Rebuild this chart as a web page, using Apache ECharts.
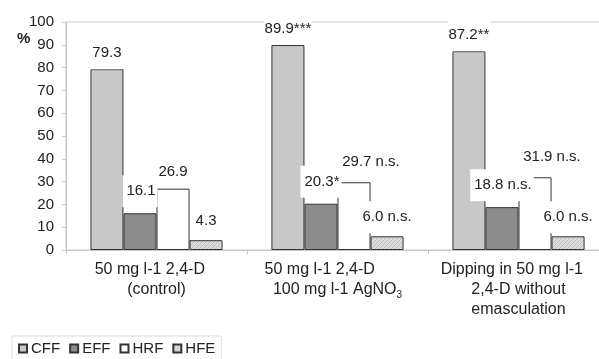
<!DOCTYPE html>
<html><head><meta charset="utf-8">
<script src="https://cdn.jsdelivr.net/npm/echarts@6/dist/echarts.min.js"></script>
<style>html,body{margin:0;padding:0;background:#fff}#c{width:599px;height:359px}</style>
</head><body><div id="c"></div>
<script>
var categories = ['50 mg l-1 2,4-D\u00a0\u00a0\u00a0\n(control)',
  '50 mg l-1 2,4-D\u00a0\u00a0\u00a0\u00a0\u00a0\u00a0\u00a0\u00a0\n100 mg l-1 AgNO{s|3}',
  'Dipping in 50 mg l-1\u00a0\u00a0\u00a0\n2,4-D without\nemasculation'];
var seriesNames = ['CFF', 'EFF', 'HRF', 'HFE'];
var cff = [79.3, 89.9, 87.2];
var eff = [16.1, 20.3, 18.8];
var hrf = [26.9, 29.7, 31.9];
var hfe = [4.3, 6.0, 6.0];
var cffLabels = ['79.3', '89.9***', '87.2**'];
var effLabels = ['16.1', '20.3*', '18.8 n.s.'];
var hrfLabels = ['26.9', '29.7 n.s.', '31.9 n.s.'];
var hfeLabels = ['4.3', '6.0 n.s.', '6.0 n.s.'];
var yTicks = [0, 10, 20, 30, 40, 50, 60, 70, 80, 90, 100];

var pc = document.createElement('canvas');
pc.width = 4; pc.height = 4;
var g = pc.getContext('2d');
g.fillStyle = '#dcdcdc'; g.fillRect(0, 0, 4, 4);
g.strokeStyle = '#bdbdbd'; g.lineWidth = 1;
g.beginPath(); g.moveTo(0, 4); g.lineTo(4, 0); g.stroke();
g.beginPath(); g.moveTo(-1, 1); g.lineTo(1, -1); g.stroke();
g.beginPath(); g.moveTo(3, 5); g.lineTo(5, 3); g.stroke();
var hatch = { image: pc, repeat: 'repeat' };

var font = 'Liberation Sans, Arial, sans-serif';
var txt = '#222';
function lab(texts, dist, pad) {
  return {
    show: true, position: 'top', distance: dist,
    fontFamily: font, fontSize: 15, color: txt,
    backgroundColor: '#fff', padding: pad, lineHeight: 16,
    formatter: function (p) { return texts[p.dataIndex]; }
  };
}
function mk(vals, offsets) {
  return vals.map(function (v, i) {
    var o = { value: v };
    if (offsets && offsets[i]) o.label = { offset: offsets[i] };
    return o;
  });
}
var border = { borderColor: '#333', borderWidth: 1 };
var chart = echarts.init(document.getElementById('c'), null, { renderer: 'canvas' });
chart.setOption({
  animation: false,
  backgroundColor: '#fff',
  title: { text: '%', left: 12, top: 26, textStyle: { fontFamily: font, fontSize: 15, fontWeight: 'bold', color: txt } },
  grid: { left: 66, top: 22, width: 543, height: 228, outerBoundsMode: 'none', containLabel: false,
    show: true, borderColor: '#c8c8c8', borderWidth: 1 },
  legend: {
    data: seriesNames, left: 12, top: 336, itemWidth: 8, itemHeight: 8, itemGap: 9,
    padding: [5, 6, 8, 6], borderColor: '#dcdcdc', borderWidth: 1, icon: 'rect',
    textStyle: { fontFamily: font, fontSize: 15, color: txt, padding: [0, 0, 0, -1] }
  },
  xAxis: {
    type: 'category', data: categories,
    axisLine: { lineStyle: { color: '#c8c8c8' } },
    axisTick: { show: true, length: 4, lineStyle: { color: '#c8c8c8' } },
    axisLabel: { fontFamily: font, fontSize: 16, color: txt, lineHeight: 20, margin: 10, interval: 0,
      rich: { s: { fontSize: 10, fontFamily: font, color: txt, verticalAlign: 'bottom', lineHeight: 20, padding: [8, 0, 0, 0] } } }
  },
  yAxis: {
    type: 'value', min: 0, max: 100, interval: 10,
    splitLine: { show: false },
    axisLine: { show: true, lineStyle: { color: '#c8c8c8' } },
    axisTick: { show: true, length: 4, lineStyle: { color: '#c8c8c8' } },
    axisLabel: { fontFamily: font, fontSize: 15, color: txt, margin: 12,
      formatter: function (v) { return yTicks.indexOf(v) >= 0 ? String(v) : ''; } }
  },
  series: [
    { name: 'CFF', type: 'bar', barGap: '0%', barCategoryGap: '27%', data: mk(cff),
      itemStyle: Object.assign({ color: '#c8c8c8' }, border), label: lab(cffLabels, 0, [8, 1]) },
    { name: 'EFF', type: 'bar', data: mk(eff),
      itemStyle: Object.assign({ color: '#8c8c8c' }, border), label: lab(effLabels, 6, [8, 2, 8, 4]) },
    { name: 'HRF', type: 'bar', data: mk(hrf, [[0, 3], [17, 0], [17, 0]]),
      itemStyle: Object.assign({ color: '#ffffff' }, border), label: lab(hrfLabels, 4, [8, 1]) },
    { name: 'HFE', type: 'bar', data: mk(hfe),
      itemStyle: Object.assign({ color: hatch }, border), label: lab(hfeLabels, 3, [8, 1]) }
  ]
});
</script></body></html>
